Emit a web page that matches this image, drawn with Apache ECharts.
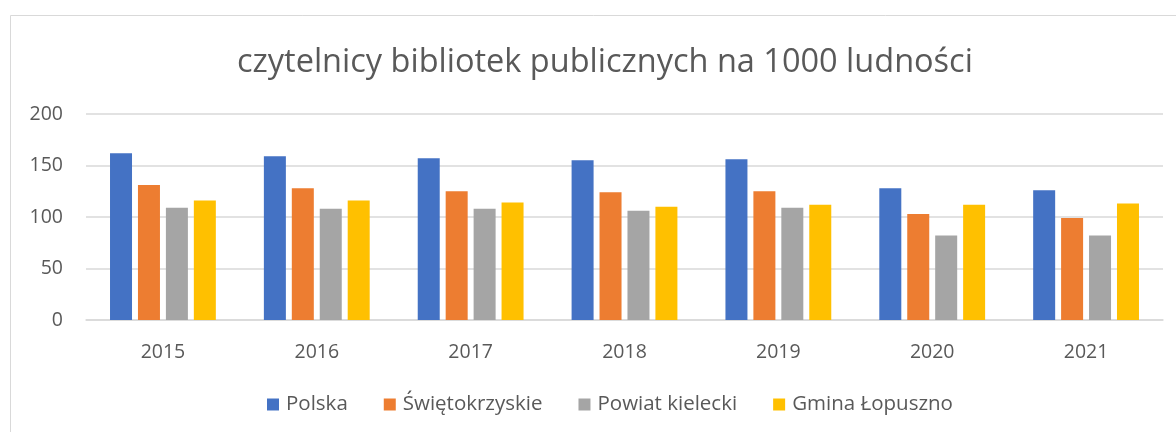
<!DOCTYPE html>
<html>
<head>
<meta charset="utf-8">
<script src="https://cdn.jsdelivr.net/npm/echarts@6/dist/echarts.min.js"></script>
<style>
  html, body { margin: 0; padding: 0; background: #fff; }
  #main { width: 1176px; height: 432px; }
</style>
</head>
<body>
<div id="main"></div>
<script>
let years = ['2015', '2016', '2017', '2018', '2019', '2020', '2021'];
let seriesNames = ['Polska', 'Świętokrzyskie', 'Powiat kielecki', 'Gmina Łopuszno'];
let polska = [162, 159, 157, 155, 156, 128, 126];
let swietokrzyskie = [131, 128, 125, 124, 125, 103, 99];
let powiatKielecki = [109, 108, 108, 106, 109, 82, 82];
let gminaLopuszno = [116, 116, 114, 110, 112, 112, 113];

let values = [polska, swietokrzyskie, powiatKielecki, gminaLopuszno];
let textFont = '"Open Sans", sans-serif';

let myChart = echarts.init(document.getElementById('main'));
let option = {
    color: ['#4472C4', '#ED7D31', '#A5A5A5', '#FFC000'],
    animation: false,
    graphic: [{
        type: 'rect',
        shape: { x: 10.5, y: 15.5, width: 1200, height: 500 },
        style: { fill: 'none', stroke: '#D9D9D9', lineWidth: 1 },
        silent: true
    }],
    title: {
        text: 'czytelnicy bibliotek publicznych na 1000 ludności',
        left: 232,
        top: 41,
        textStyle: {
            color: '#595959',
            fontFamily: textFont,
            fontWeight: 'normal',
            fontSize: 32.5
        }
    },
    grid: {
        left: 86,
        right: 13,
        top: 114,
        bottom: 112,
        containLabel: false
    },
    legend: {
        bottom: 12,
        left: 262,
        itemWidth: 12,
        itemHeight: 12,
        itemGap: 36,
        icon: 'rect',
        data: seriesNames,
        textStyle: {
            color: '#595959',
            fontFamily: textFont,
            fontSize: 20.5,
            padding: [0, 0, 0, 2]
        }
    },
    xAxis: {
        type: 'category',
        data: years,
        axisTick: { show: false },
        axisLine: { show: true, lineStyle: { color: '#D9D9D9', width: 1.5 } },
        axisLabel: {
            color: '#595959',
            fontFamily: textFont,
            fontSize: 19.5,
            margin: 22
        }
    },
    yAxis: {
        type: 'value',
        min: 0,
        max: 200,
        interval: 50,
        axisLine: { show: false },
        axisTick: { show: false },
        axisLabel: {
            color: '#595959',
            fontFamily: textFont,
            fontSize: 19.5,
            margin: 23
        },
        splitLine: { lineStyle: { color: '#D9D9D9', width: 1.5 } }
    },
    series: seriesNames.map(function (name, i) {
        return {
            name: name,
            type: 'bar',
            data: values[i],
            barWidth: 22,
            barGap: '27%'
        };
    })
};
myChart.setOption(option);
</script>
</body>
</html>
